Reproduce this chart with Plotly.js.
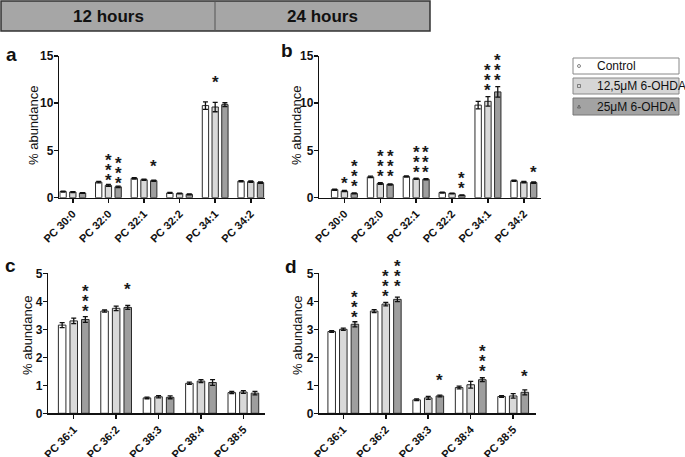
<!DOCTYPE html>
<html>
<head>
<meta charset="utf-8">
<script src="https://cdn.plot.ly/plotly-3.0.1.min.js"></script>
<style>html,body{margin:0;padding:0;background:#fff}#chart{width:685px;height:457px}</style>
</head>
<body>
<div id="chart"></div>
<script>
// ---- data ----
const catsShort = ['PC 30:0','PC 32:0','PC 32:1','PC 32:2','PC 34:1','PC 34:2'];
const catsLong  = ['PC 36:1','PC 36:2','PC 38:3','PC 38:4','PC 38:5'];
const seriesNames = ['Control','12,5\u03bcM 6-OHDA','25\u03bcM 6-OHDA'];
const timeLabels = ['12 hours','24 hours'];
const panelLetters = ['a','b','c','d'];
const yTitle = '% abundance';

// panel a (12 h)
const ctrlA = [0.65,1.65,2.05,0.50,9.75,1.75];
const ctrlA_sd = [0.05,0.08,0.07,0.05,0.40,0.06];
const lowA = [0.60,1.30,1.90,0.45,9.60,1.70];
const lowA_sd = [0.05,0.10,0.06,0.04,0.50,0.07];
const highA = [0.50,1.15,1.80,0.35,9.85,1.60];
const highA_sd = [0.04,0.08,0.06,0.04,0.20,0.07];

// panel b (24 h)
const ctrlB = [0.85,2.20,2.25,0.55,9.80,1.80];
const ctrlB_sd = [0.06,0.08,0.06,0.05,0.40,0.06];
const lowB = [0.70,1.50,2.00,0.45,10.20,1.65];
const lowB_sd = [0.06,0.08,0.07,0.04,0.50,0.07];
const highB = [0.45,1.40,1.95,0.25,11.20,1.60];
const highB_sd = [0.05,0.07,0.06,0.04,0.55,0.07];

// panel c (12 h)
const ctrlC = [3.15,3.65,0.55,1.07,0.74];
const ctrlC_sd = [0.09,0.04,0.03,0.04,0.04];
const lowC = [3.30,3.75,0.59,1.15,0.76];
const lowC_sd = [0.10,0.08,0.04,0.05,0.05];
const highC = [3.35,3.78,0.57,1.10,0.72];
const highC_sd = [0.10,0.07,0.05,0.10,0.06];

// panel d (24 h)
const ctrlD = [2.92,3.65,0.48,0.92,0.60];
const ctrlD_sd = [0.03,0.05,0.03,0.05,0.03];
const lowD = [3.00,3.90,0.55,1.02,0.62];
const lowD_sd = [0.04,0.06,0.05,0.12,0.08];
const highD = [3.18,4.07,0.62,1.20,0.75];
const highD_sd = [0.09,0.08,0.03,0.07,0.09];

// significance: [category index, series index, number of stars, level of lowest star]
const sigA = [[1,1,3,2.22],[1,2,3,1.98],[2,2,1,3.75],[4,1,1,12.63]];
const sigB = [[0,1,1,1.90],[0,2,3,1.59],[1,1,3,2.71],[1,2,3,2.71],[2,1,3,3.07],[2,2,3,3.07],
              [3,2,2,1.38],[4,1,3,11.82],[4,2,3,12.87],[5,2,1,3.13]];
const sigC = [[0,2,3,3.79],[1,2,1,4.55]];
const sigD = [[0,2,3,3.57],[1,1,3,4.31],[1,2,3,4.66],[2,2,1,1.31],[3,2,3,1.64],[4,2,1,1.45]];

// ---- style ----
const W = 685, H = 457;
const FONT = 'Liberation Sans, Arial, sans-serif';
const fills = ['#ffffff','#d9d9d9','#9e9e9e'];
const BARGAP = 0.18, GROUPGAP = 0.35;
const slot = (1 - BARGAP) / 3;
const px = x => x / W;
const py = y => 1 - y / H;

const panels = [
  {cats: catsShort, vals:[ctrlA,lowA,highA], sds:[ctrlA_sd,lowA_sd,highA_sd], sig: sigA,
   xd:[59.3,265], yd:[56,197.7], xr:[-0.38,5.4], yr:[0,15], dt:5, letter:[11,55], title:[34,125]},
  {cats: catsShort, vals:[ctrlB,lowB,highB], sds:[ctrlB_sd,lowB_sd,highB_sd], sig: sigB,
   xd:[319.3,540.7], yd:[56,197.7], xr:[-0.7,5.47], yr:[0,15], dt:5, letter:[287,51], title:[297,125]},
  {cats: catsLong, vals:[ctrlC,lowC,highC], sds:[ctrlC_sd,lowC_sd,highC_sd], sig: sigC,
   xd:[48.3,265], yd:[273.3,413.3], xr:[-0.6,4.51], yr:[0,5], dt:1, letter:[10,265], title:[27,335]},
  {cats: catsLong, vals:[ctrlD,lowD,highD], sds:[ctrlD_sd,lowD_sd,highD_sd], sig: sigD,
   xd:[319.3,535.7], yd:[273.3,413.3], xr:[-0.565,4.53], yr:[0,5], dt:1, letter:[291,266], title:[297,335]}
];

const traces = [];
const layout = {
  width: W, height: H, margin:{l:0,r:0,t:0,b:0},
  paper_bgcolor:'#fff', plot_bgcolor:'rgba(0,0,0,0)',
  barmode:'group', bargap: BARGAP, bargroupgap: GROUPGAP,
  showlegend:false, font:{family:FONT, color:'#111'},
  shapes:[], annotations:[]
};

panels.forEach((p, i) => {
  const n = i === 0 ? '' : String(i + 1);
  const xa = 'x' + n, ya = 'y' + n;
  for (let s = 0; s < 3; s++) {
    traces.push({
      type:'bar', x:p.cats, y:p.vals[s], xaxis:xa, yaxis:ya, name:seriesNames[s],
      marker:{color:fills[s], line:{color:'#2b2b2b', width:1}},
      error_y:{type:'data', array:p.sds[s], visible:true, color:'#111', thickness:1.3, width:2.5}
    });
  }
  layout['xaxis' + n] = {
    domain:[px(p.xd[0]), px(p.xd[1])], anchor: ya, type:'category', range:p.xr,
    showline:true, linecolor:'#111', linewidth:1.5, ticks:'outside', ticklen:4, tickwidth:1.5,
    tickcolor:'#111', tickangle:-45, tickfont:{size:11, weight:700, family:FONT, color:'#111'},
    showgrid:false, zeroline:false, fixedrange:true, automargin:false
  };
  layout['yaxis' + n] = {
    domain:[py(p.yd[1]), py(p.yd[0])], anchor: xa, range:p.yr, dtick:p.dt, tick0:0,
    showline:true, linecolor:'#111', linewidth:1.5, ticks:'outside', ticklen:4, tickwidth:1.5,
    tickcolor:'#111', tickfont:{size:12, weight:700, family:FONT, color:'#111'},
    ticklabelstandoff:-2,
    showgrid:false, zeroline:false, fixedrange:true, automargin:false
  };
  // y title
  layout.annotations.push({xref:'paper', yref:'paper', x:px(p.title[0]), y:py(p.title[1]),
    text:yTitle, textangle:-90, showarrow:false, xanchor:'center', yanchor:'middle',
    font:{size:13, family:FONT, color:'#111'}});
  // panel letter
  layout.annotations.push({xref:'paper', yref:'paper', x:px(p.letter[0]), y:py(p.letter[1]),
    text:'<b>' + panelLetters[i] + '</b>', showarrow:false, xanchor:'center', yanchor:'middle',
    font:{size:19, family:FONT, color:'#111'}});
  // significance stars
  p.sig.forEach(([ci, si, cnt, yl]) => {
    for (let k = 0; k < cnt; k++) {
      layout.annotations.push({xref:xa, yref:ya, x: ci + (si - 1) * slot, y: yl,
        yshift: k * 10 - 4, text:'<b>*</b>', showarrow:false, xanchor:'center', yanchor:'middle',
        font:{size:17, family:FONT, color:'#1a1a1a'}});
    }
  });
});

// header band
layout.shapes.push({type:'rect', xref:'paper', yref:'paper', x0:px(1), x1:px(430), y0:py(31), y1:py(1),
  fillcolor:'#a6a6a6', line:{color:'#333', width:1.5}, layer:'below'});
layout.shapes.push({type:'line', xref:'paper', yref:'paper', x0:px(215), x1:px(215), y0:py(31), y1:py(1),
  line:{color:'#555', width:1}});
[108.5, 322.7].forEach((cx, j) => {
  layout.annotations.push({xref:'paper', yref:'paper', x:px(cx), y:py(16.5), text:'<b>' + timeLabels[j] + '</b>',
    showarrow:false, xanchor:'center', yanchor:'middle',
    font:{size:17, family:'Liberation Sans Narrow, Arial Narrow, Liberation Sans, sans-serif', color:'#111'}});
});

// legend boxes
const legRows = [[58,74],[78,94],[98,115]];
const legBorder = ['#888','#888','#777'];
const legFill = ['#ffffff','#d6d6d6','#a3a3a3'];
legRows.forEach(([y0, y1], s) => {
  layout.shapes.push({type:'rect', xref:'paper', yref:'paper', x0:px(573), x1:px(679), y0:py(y1), y1:py(y0),
    fillcolor:legFill[s], line:{color:legBorder[s], width:1}});
  const cy = (y0 + y1) / 2;
  if (s === 0) {
    layout.shapes.push({type:'circle', xref:'paper', yref:'paper', x0:px(577.5), x1:px(580.5), y0:py(cy+1.5), y1:py(cy-1.5),
      line:{color:'#666', width:0.8}, fillcolor:'rgba(0,0,0,0)'});
  } else if (s === 1) {
    layout.shapes.push({type:'rect', xref:'paper', yref:'paper', x0:px(577.5), x1:px(580.5), y0:py(cy+1.5), y1:py(cy-1.5),
      line:{color:'#666', width:0.8}, fillcolor:'rgba(0,0,0,0)'});
  } else {
    layout.shapes.push({type:'path', xref:'paper', yref:'paper',
      path:'M ' + px(577.5) + ' ' + py(cy+1.5) + ' L ' + px(580.5) + ' ' + py(cy+1.5) + ' L ' + px(579) + ' ' + py(cy-1.5) + ' Z',
      line:{color:'#555', width:0.8}, fillcolor:'rgba(0,0,0,0)'});
  }
  layout.annotations.push({xref:'paper', yref:'paper', x:px(595), y:py(cy), text:seriesNames[s],
    showarrow:false, xanchor:'left', yanchor:'middle', font:{size:12, family:FONT, color:'#111'}});
});

Plotly.newPlot('chart', traces, layout, {staticPlot:true, displayModeBar:false});
</script>
</body>
</html>
